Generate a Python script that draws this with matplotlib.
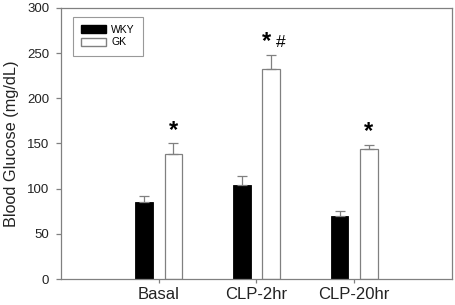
import numpy as np
import matplotlib.pyplot as plt
from matplotlib.patches import Patch

plt.rcParams['font.family'] = ['Liberation Sans', 'DejaVu Sans']

categories = ['Basal', 'CLP-2hr', 'CLP-20hr']
wky_mean = [85, 104.5, 70]
wky_err = [7, 10, 5]
gk_mean = [138, 232, 143.5]
gk_err = [12, 16, 4.5]
gk_marks = ['*', '*#', '*']

gray = '#808080'
x = np.arange(1, len(categories) + 1)
w = 0.18

fig = plt.figure(figsize=(4.56, 3.05), dpi=100)
ax = fig.add_axes([61 / 456, 1 - 279 / 305, 391 / 456, 271 / 305])

ax.bar(x - 0.15, wky_mean, w, color='black', edgecolor='black', linewidth=0.6,
       yerr=[np.zeros(3), wky_err], ecolor=gray,
       error_kw=dict(capsize=3.5, elinewidth=0.9, capthick=0.9), label='WKY', zorder=2)
ax.bar(x + 0.15, gk_mean, w, color='white', edgecolor=gray, linewidth=0.9,
       yerr=[np.zeros(3), gk_err], ecolor=gray,
       error_kw=dict(capsize=3.5, elinewidth=0.9, capthick=0.9), label='GK', zorder=2)

for xi, m, e, s in zip(x, gk_mean, gk_err, gk_marks):
    if s == '*':
        ax.text(xi + 0.15, m + e + 2, '*', ha='center', va='bottom', fontsize=17,
                fontweight='bold')
    else:
        ax.text(xi + 0.1, m + e + 2, '*', ha='center', va='bottom', fontsize=17,
                fontweight='bold')
        ax.text(xi + 0.245, m + e + 5.5, '#', ha='center', va='bottom', fontsize=12.5)

ax.set_xlim(0, 4)
ax.set_ylim(0, 300)
ax.set_xticks(x)
ax.set_xticklabels(categories, fontsize=12, color='#222222')
ax.set_yticks(np.arange(0, 301, 50))
ax.tick_params(axis='y', labelsize=9.5, colors=gray, labelcolor='#222222', length=3.5,
               width=0.9, pad=5)
ax.tick_params(axis='x', colors=gray, labelcolor='#222222', length=3, width=0.9, pad=3)
for sp in ax.spines.values():
    sp.set_color(gray)
    sp.set_linewidth(0.9)

ax.set_ylabel('Blood Glucose (mg/dL)', fontsize=11.7, color='#222222', labelpad=6)

handles = [Patch(facecolor='black', edgecolor='black'),
           Patch(facecolor='white', edgecolor=gray)]
leg = ax.legend(handles, ['WKY', 'GK'], loc='upper left', bbox_to_anchor=(0.022, 0.98),
                fontsize=7.5, frameon=True, fancybox=False, edgecolor=gray,
                handlelength=2.4, handleheight=0.8, borderpad=0.8, labelspacing=0.25,
                handletextpad=0.5, borderaxespad=0.3)
leg.get_frame().set_linewidth(0.8)

fig.savefig('out.png', dpi=100)
